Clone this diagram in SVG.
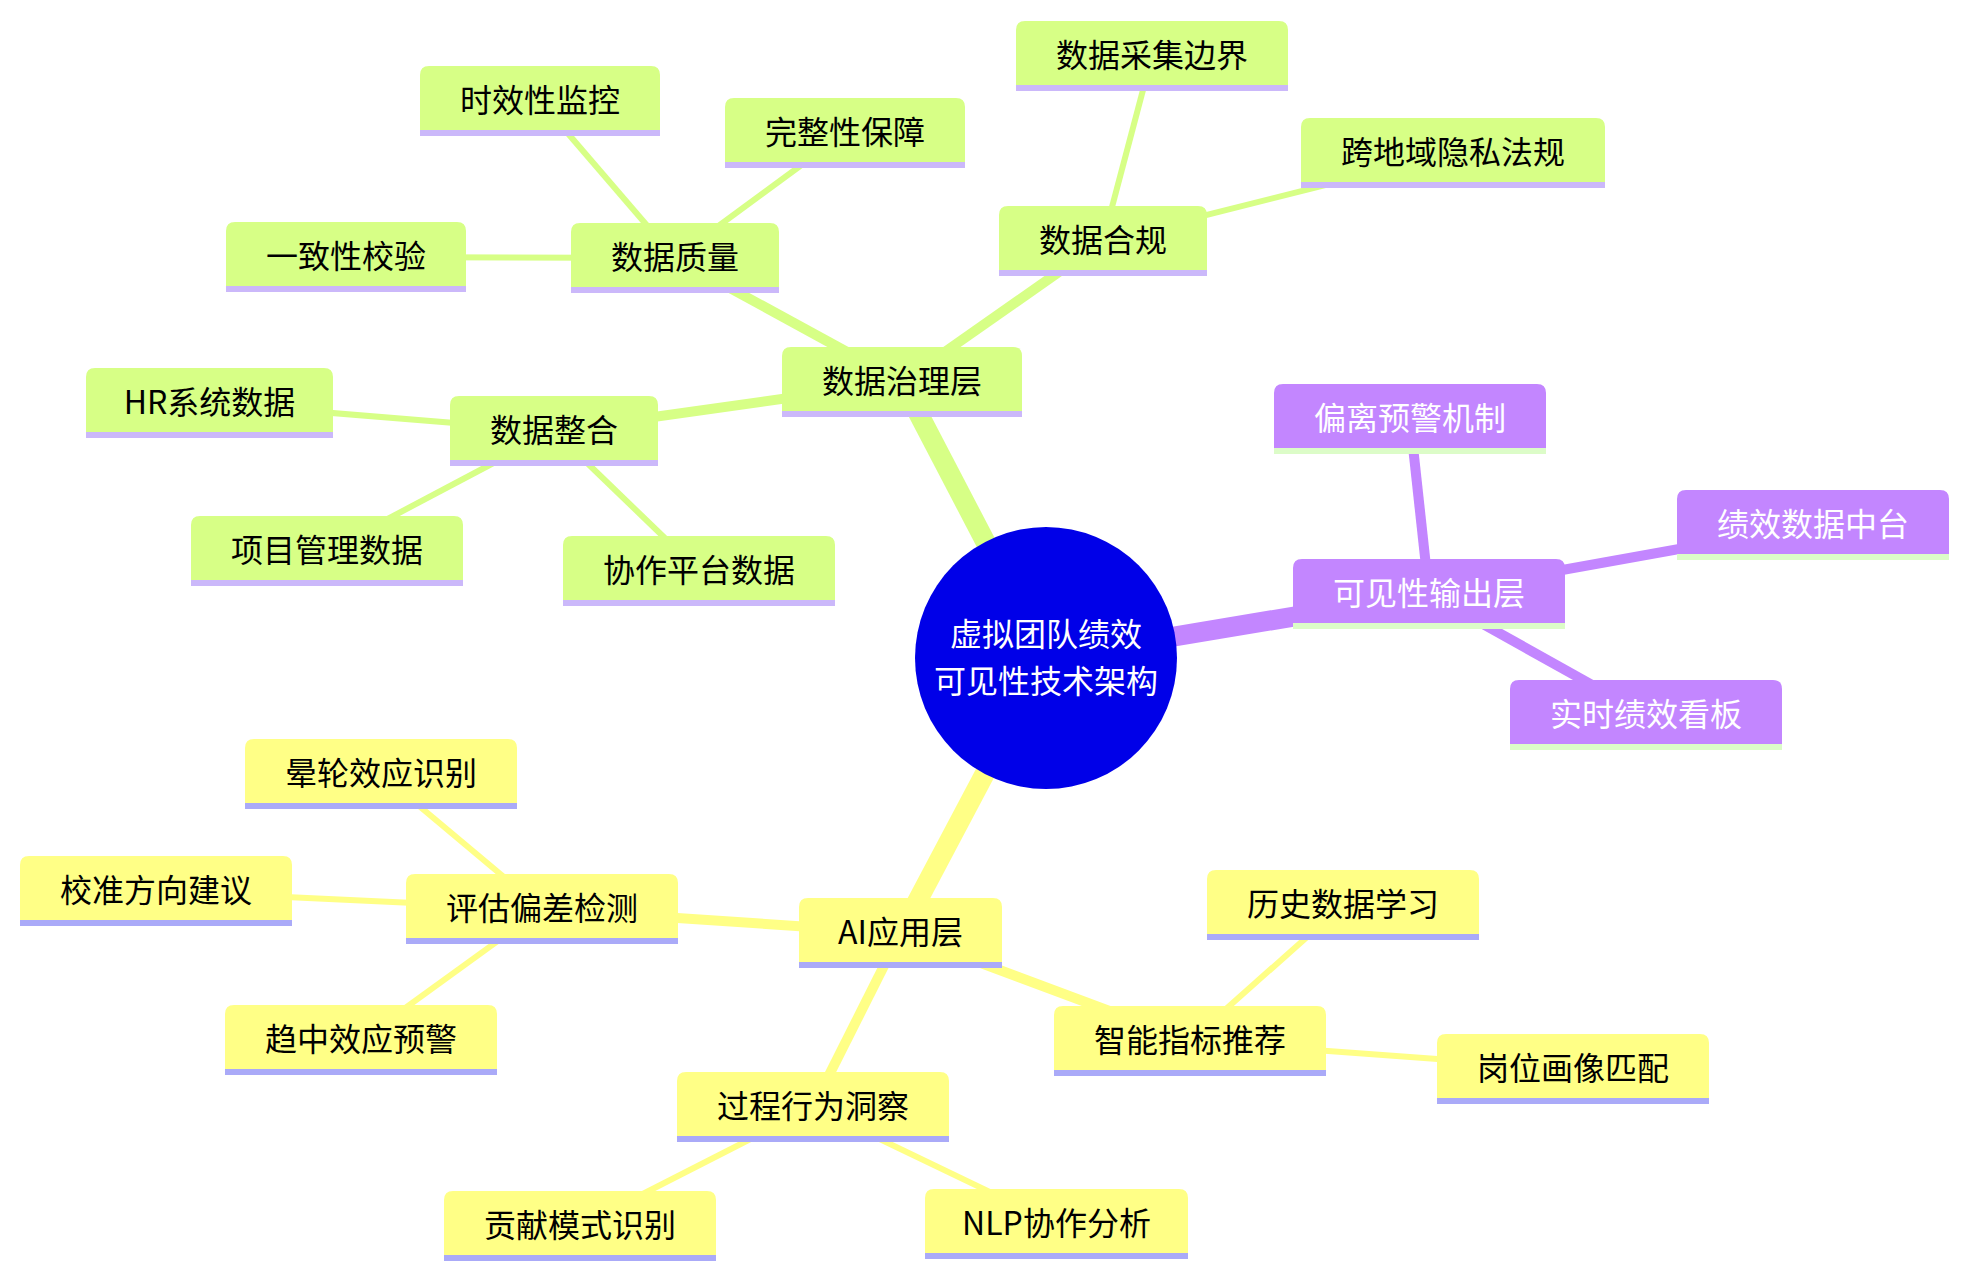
<svg xmlns="http://www.w3.org/2000/svg" width="1968" height="1278" viewBox="0 0 1968 1278">
<style>
text{font-family:"Noto Sans CJK SC","Noto Sans",sans-serif;font-size:32px;text-anchor:middle;dominant-baseline:central}
.g path{fill:#d7ff86}.g line{stroke:#cbb8fa;stroke-width:6}.g text{fill:#000}
.y path{fill:#ffff86}.y line{stroke:#aaaaf8;stroke-width:6}.y text{fill:#000}
.p path{fill:#c386ff}.p line{stroke:#dcfcc8;stroke-width:6}.p text{fill:#fff}
.e0{stroke-width:20}.e1{stroke-width:10}.e2{stroke-width:6}
.eg{stroke:#d7ff86}.ey{stroke:#ffff86}.ep{stroke:#c386ff}
</style>
<g id="connectors" fill="none">
<line class="e0 eg" x1="1046" y1="658" x2="902" y2="382"/>
<line class="e0 ep" x1="1046" y1="658" x2="1429" y2="594"/>
<line class="e0 ey" x1="1046" y1="658" x2="900.5" y2="933"/>
<line class="e1 eg" x1="902" y1="382" x2="675" y2="258"/>
<line class="e1 eg" x1="902" y1="382" x2="554" y2="431"/>
<line class="e1 eg" x1="902" y1="382" x2="1103" y2="241"/>
<line class="e2 eg" x1="675" y1="258" x2="346" y2="257"/>
<line class="e2 eg" x1="675" y1="258" x2="540" y2="101"/>
<line class="e2 eg" x1="675" y1="258" x2="845" y2="133"/>
<line class="e2 eg" x1="554" y1="431" x2="209.5" y2="403"/>
<line class="e2 eg" x1="554" y1="431" x2="327" y2="551"/>
<line class="e2 eg" x1="554" y1="431" x2="699" y2="571"/>
<line class="e2 eg" x1="1103" y1="241" x2="1152" y2="56"/>
<line class="e2 eg" x1="1103" y1="241" x2="1453" y2="153"/>
<line class="e1 ep" x1="1429" y1="594" x2="1410" y2="419"/>
<line class="e1 ep" x1="1429" y1="594" x2="1813" y2="525"/>
<line class="e1 ep" x1="1429" y1="594" x2="1646" y2="715"/>
<line class="e1 ey" x1="900.5" y1="933" x2="542" y2="909"/>
<line class="e1 ey" x1="900.5" y1="933" x2="813" y2="1107"/>
<line class="e1 ey" x1="900.5" y1="933" x2="1190" y2="1041"/>
<line class="e2 ey" x1="542" y1="909" x2="381" y2="774"/>
<line class="e2 ey" x1="542" y1="909" x2="156" y2="891"/>
<line class="e2 ey" x1="542" y1="909" x2="361" y2="1040"/>
<line class="e2 ey" x1="813" y1="1107" x2="580" y2="1226"/>
<line class="e2 ey" x1="813" y1="1107" x2="1056.5" y2="1224"/>
<line class="e2 ey" x1="1190" y1="1041" x2="1343" y2="905"/>
<line class="e2 ey" x1="1190" y1="1041" x2="1573" y2="1069"/>
</g>
<g id="root"><circle cx="1046" cy="658" r="131" fill="#0000e8"/>
<text x="1046" y="632" fill="#fff">虚拟团队绩效</text><text x="1046" y="679" fill="#fff">可见性技术架构</text></g>

<g id="n-governance" class="g" transform="translate(782,347)"><path d="M0,67V9Q0,0 9,0H231Q240,0 240,9V67Z"/><line x1="0" y1="67" x2="240" y2="67"/><text x="120" y="31.5">数据治理层</text></g>
<g id="n-quality" class="g" transform="translate(571,223)"><path d="M0,67V9Q0,0 9,0H199Q208,0 208,9V67Z"/><line x1="0" y1="67" x2="208" y2="67"/><text x="104" y="31.5">数据质量</text></g>
<g id="n-consistency" class="g" transform="translate(226,222)"><path d="M0,67V9Q0,0 9,0H231Q240,0 240,9V67Z"/><line x1="0" y1="67" x2="240" y2="67"/><text x="120" y="31.5">一致性校验</text></g>
<g id="n-timeliness" class="g" transform="translate(420,66)"><path d="M0,67V9Q0,0 9,0H231Q240,0 240,9V67Z"/><line x1="0" y1="67" x2="240" y2="67"/><text x="120" y="31.5">时效性监控</text></g>
<g id="n-completeness" class="g" transform="translate(725,98)"><path d="M0,67V9Q0,0 9,0H231Q240,0 240,9V67Z"/><line x1="0" y1="67" x2="240" y2="67"/><text x="120" y="31.5">完整性保障</text></g>
<g id="n-integration" class="g" transform="translate(450,396)"><path d="M0,67V9Q0,0 9,0H199Q208,0 208,9V67Z"/><line x1="0" y1="67" x2="208" y2="67"/><text x="104" y="31.5">数据整合</text></g>
<g id="n-hr" class="g" transform="translate(86,368)"><path d="M0,67V9Q0,0 9,0H238Q247,0 247,9V67Z"/><line x1="0" y1="67" x2="247" y2="67"/><text x="123.5" y="31.5">HR系统数据</text></g>
<g id="n-project" class="g" transform="translate(191,516)"><path d="M0,67V9Q0,0 9,0H263Q272,0 272,9V67Z"/><line x1="0" y1="67" x2="272" y2="67"/><text x="136" y="31.5">项目管理数据</text></g>
<g id="n-collab" class="g" transform="translate(563,536)"><path d="M0,67V9Q0,0 9,0H263Q272,0 272,9V67Z"/><line x1="0" y1="67" x2="272" y2="67"/><text x="136" y="31.5">协作平台数据</text></g>
<g id="n-compliance" class="g" transform="translate(999,206)"><path d="M0,67V9Q0,0 9,0H199Q208,0 208,9V67Z"/><line x1="0" y1="67" x2="208" y2="67"/><text x="104" y="31.5">数据合规</text></g>
<g id="n-boundary" class="g" transform="translate(1016,21)"><path d="M0,67V9Q0,0 9,0H263Q272,0 272,9V67Z"/><line x1="0" y1="67" x2="272" y2="67"/><text x="136" y="31.5">数据采集边界</text></g>
<g id="n-privacy" class="g" transform="translate(1301,118)"><path d="M0,67V9Q0,0 9,0H295Q304,0 304,9V67Z"/><line x1="0" y1="67" x2="304" y2="67"/><text x="152" y="31.5">跨地域隐私法规</text></g>

<g id="n-output" class="p" transform="translate(1293,559)"><path d="M0,67V9Q0,0 9,0H263Q272,0 272,9V67Z"/><line x1="0" y1="67" x2="272" y2="67"/><text x="136" y="31.5">可见性输出层</text></g>
<g id="n-alert" class="p" transform="translate(1274,384)"><path d="M0,67V9Q0,0 9,0H263Q272,0 272,9V67Z"/><line x1="0" y1="67" x2="272" y2="67"/><text x="136" y="31.5">偏离预警机制</text></g>
<g id="n-midplatform" class="p" transform="translate(1677,490)"><path d="M0,67V9Q0,0 9,0H263Q272,0 272,9V67Z"/><line x1="0" y1="67" x2="272" y2="67"/><text x="136" y="31.5">绩效数据中台</text></g>
<g id="n-dashboard" class="p" transform="translate(1510,680)"><path d="M0,67V9Q0,0 9,0H263Q272,0 272,9V67Z"/><line x1="0" y1="67" x2="272" y2="67"/><text x="136" y="31.5">实时绩效看板</text></g>

<g id="n-ai" class="y" transform="translate(799,898)"><path d="M0,67V9Q0,0 9,0H194Q203,0 203,9V67Z"/><line x1="0" y1="67" x2="203" y2="67"/><text x="101.5" y="31.5">AI应用层</text></g>
<g id="n-bias" class="y" transform="translate(406,874)"><path d="M0,67V9Q0,0 9,0H263Q272,0 272,9V67Z"/><line x1="0" y1="67" x2="272" y2="67"/><text x="136" y="31.5">评估偏差检测</text></g>
<g id="n-halo" class="y" transform="translate(245,739)"><path d="M0,67V9Q0,0 9,0H263Q272,0 272,9V67Z"/><line x1="0" y1="67" x2="272" y2="67"/><text x="136" y="31.5">晕轮效应识别</text></g>
<g id="n-calib" class="y" transform="translate(20,856)"><path d="M0,67V9Q0,0 9,0H263Q272,0 272,9V67Z"/><line x1="0" y1="67" x2="272" y2="67"/><text x="136" y="31.5">校准方向建议</text></g>
<g id="n-central" class="y" transform="translate(225,1005)"><path d="M0,67V9Q0,0 9,0H263Q272,0 272,9V67Z"/><line x1="0" y1="67" x2="272" y2="67"/><text x="136" y="31.5">趋中效应预警</text></g>
<g id="n-process" class="y" transform="translate(677,1072)"><path d="M0,67V9Q0,0 9,0H263Q272,0 272,9V67Z"/><line x1="0" y1="67" x2="272" y2="67"/><text x="136" y="31.5">过程行为洞察</text></g>
<g id="n-contrib" class="y" transform="translate(444,1191)"><path d="M0,67V9Q0,0 9,0H263Q272,0 272,9V67Z"/><line x1="0" y1="67" x2="272" y2="67"/><text x="136" y="31.5">贡献模式识别</text></g>
<g id="n-nlp" class="y" transform="translate(925,1189)"><path d="M0,67V9Q0,0 9,0H254Q263,0 263,9V67Z"/><line x1="0" y1="67" x2="263" y2="67"/><text x="131.5" y="31.5">NLP协作分析</text></g>
<g id="n-metric" class="y" transform="translate(1054,1006)"><path d="M0,67V9Q0,0 9,0H263Q272,0 272,9V67Z"/><line x1="0" y1="67" x2="272" y2="67"/><text x="136" y="31.5">智能指标推荐</text></g>
<g id="n-history" class="y" transform="translate(1207,870)"><path d="M0,67V9Q0,0 9,0H263Q272,0 272,9V67Z"/><line x1="0" y1="67" x2="272" y2="67"/><text x="136" y="31.5">历史数据学习</text></g>
<g id="n-role" class="y" transform="translate(1437,1034)"><path d="M0,67V9Q0,0 9,0H263Q272,0 272,9V67Z"/><line x1="0" y1="67" x2="272" y2="67"/><text x="136" y="31.5">岗位画像匹配</text></g>
</svg>
